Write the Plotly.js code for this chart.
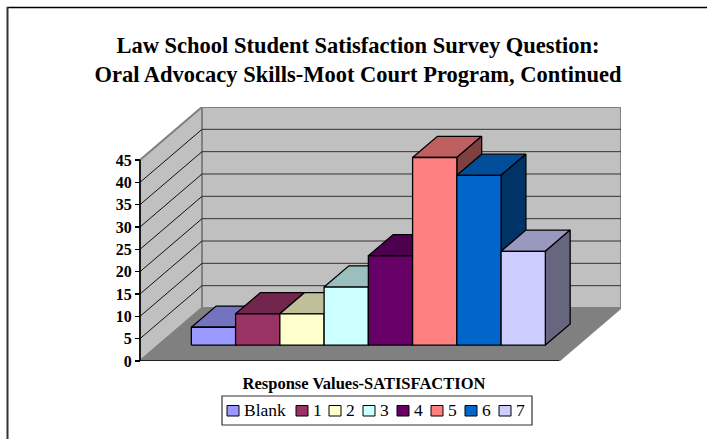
<!DOCTYPE html>
<html><head><meta charset="utf-8">
<script src="https://cdn.plot.ly/plotly-3.0.0.min.js"></script>
<style>html,body{margin:0;padding:0;background:#fff}#c{width:707px;height:439px}</style>
</head><body><div id="c"></div>
<script>
const categories = ["Blank","1","2","3","4","5","6","7"];
const values = [4,7,7,13,20,42,38,21];
const colors = ["#9999FF","#993366","#FFFFCC","#CCFFFF","#660066","#FF8080","#0066CC","#CCCCFF"];
const yTicks = [0,5,10,15,20,25,30,35,40,45];
const titleText = "Law School Student Satisfaction Survey Question:<br>Oral Advocacy Skills-Moot Court Program, Continued";
const xTitle = "Response Values-SATISFACTION";

const W=707,H=439,L=107,R=621,T=107,B=361;
const unitX=44.25, unitY=4.467, depthX=62/unitX, depthY=53/unitY;
const floorL=-1.24, floorR=8.23, barD0=0.3, barD1=0.7, yMax=45;
const xRange=[floorL-(140-L)/unitX, floorL+(R-140)/unitX];
const yRange=[0,(B-T)/unitY];
const font="'Liberation Serif','Times New Roman',serif";
const P=(x,v,d)=>[x+d*depthX, v+d*depthY];
function shade(hex,f){const n=parseInt(hex.slice(1),16);
  const c=[n>>16&255,n>>8&255,n&255].map(v=>Math.round(v*f));
  return `rgb(${c.join(",")})`;}
function poly(pts,fill,lineColor,w){
  const c=pts.concat([pts[0]]);
  return {x:c.map(p=>p[0]),y:c.map(p=>p[1]),mode:"lines",fill:"toself",fillcolor:fill,
    line:{color:lineColor,width:w},hoverinfo:"skip",showlegend:false,type:"scatter",cliponaxis:false};
}
function line(a,b,color,w){
  return {x:[a[0],b[0]],y:[a[1],b[1]],mode:"lines",line:{color:color,width:w},hoverinfo:"skip",showlegend:false,type:"scatter",cliponaxis:false};
}
const traces=[];
const wall="#808080";
traces.push(poly([P(floorL,0,1),P(floorR,0,1),P(floorR,yMax,1),P(floorL,yMax,1)],"#C0C0C0",wall,2));
traces.push(poly([P(floorL,0,0),P(floorL,0,1),P(floorL,yMax,1),P(floorL,yMax,0)],"#C0C0C0",wall,2));
traces.push(poly([P(floorL,0,0),P(floorR,0,0),P(floorR,0,1),P(floorL,0,1)],"#808080",wall,1.5));
yTicks.filter(v=>v>0&&v<yMax).forEach(v=>{
  traces.push(line(P(floorL,v,0),P(floorL,v,1),"#111",1));
  traces.push(line(P(floorL,v,1),P(floorR,v,1),"#333",1));
});
traces.push(line(P(floorL,0,0),P(floorL,yMax,0),"#000",1.6));
traces.push(line(P(floorL,0,0),P(floorR,0,0),"#000",1.6));
values.forEach((v,i)=>{
  const a=i-0.5,b=i+0.5,col=colors[i];
  traces.push(poly([P(a,v,barD0),P(b,v,barD0),P(b,v,barD1),P(a,v,barD1)],shade(col,0.75),"#000",1.3));
  traces.push(poly([P(b,0,barD0),P(b,0,barD1),P(b,v,barD1),P(b,v,barD0)],shade(col,0.5),"#000",1.3));
  traces.push(poly([P(a,0,barD0),P(b,0,barD0),P(b,v,barD0),P(a,v,barD0)],col,"#000",1.3));
});
const px=x=>(x-L)/(R-L), py=y=>(B-y)/(B-T);
const rect=(x0,y0,x1,y1,lc,w,fc)=>({type:"rect",xref:"paper",yref:"paper",x0:px(x0),x1:px(x1),y0:py(y1),y1:py(y0),line:{color:lc,width:w},fillcolor:fc||"rgba(0,0,0,0)"});
const seg=(x0,y0,x1,y1,lc,w)=>({type:"line",xref:"paper",yref:"paper",x0:px(x0),x1:px(x1),y0:py(y0),y1:py(y1),line:{color:lc,width:w}});
const shapes=[seg(7,7.5,707,7.5,"#000",1.5),seg(7.5,7,7.5,439,"#333",2),rect(222,396,532,425,"#333",1.2)];
const swatchX=[227,296,329,363,397,431,465,499];
const annotations=[];
categories.forEach((c,i)=>{
  shapes.push(rect(swatchX[i],405.5,swatchX[i]+12,416,"#000",1,colors[i]));
  annotations.push({xref:"paper",yref:"paper",x:px(swatchX[i]+16),y:py(410),xanchor:"left",yanchor:"middle",text:c,showarrow:false,font:{family:font,size:17.5,color:"#000"},borderpad:0});
});
const layout={width:W,height:H,paper_bgcolor:"#fff",plot_bgcolor:"rgba(0,0,0,0)",showlegend:false,
  margin:{l:L,r:W-R,t:T,b:H-B,pad:0},
  title:{text:"<b>"+titleText.replace("<br>","</b><br><b>")+"</b>",font:{family:font,size:22.5,color:"#000"},xref:"container",yref:"container",x:358/W,xanchor:"center",y:1-53/H,yanchor:"top",pad:{t:0,b:0,l:0,r:0}},
  xaxis:{range:xRange,showgrid:false,zeroline:false,showline:false,showticklabels:false,ticks:"",fixedrange:true,
    title:{text:"<b>"+xTitle+"</b>",font:{family:font,size:16.5,color:"#000"},standoff:16}},
  yaxis:{range:yRange,anchor:"free",position:(140-L)/(R-L),tickmode:"array",tickvals:yTicks,ticktext:yTicks.map(String),
    tickfont:{family:font,size:16,color:"#000",weight:"bold"},ticks:"outside",ticklen:5,tickwidth:1.2,tickcolor:"#000",showgrid:false,zeroline:false,showline:false,fixedrange:true},
  shapes,annotations,hovermode:false};
Plotly.newPlot("c",traces,layout,{displayModeBar:false,staticPlot:true});
</script></body></html>
